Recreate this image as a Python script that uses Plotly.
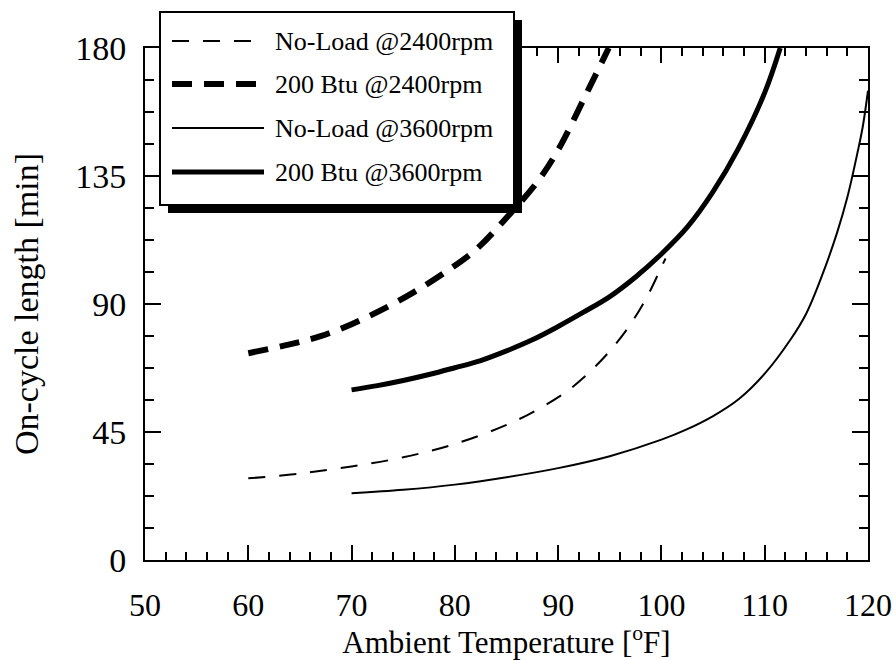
import plotly.graph_objects as go

# ---- data ----
t_nl2400 = [60, 65, 70, 75, 80, 85, 88, 91, 94, 96.5, 98.5, 100, 100.4]
v_nl2400 = [28.7, 30.4, 32.9, 36.1, 40.8, 47.5, 52.9, 59.7, 69.5, 80.3, 91.8, 103, 106]

t_bt2400 = [60, 64, 67, 70, 73, 76, 79, 82, 85, 88, 90, 93, 94.9]
v_bt2400 = [72.7, 75.8, 78.7, 82.9, 88.1, 94.1, 101, 109, 120.3, 133, 144.2, 165.9, 180]

t_nl3600 = [70, 75, 80, 85, 90, 95, 100, 102.5, 105, 107.5, 110, 112.5, 114, 115.5, 117, 118, 119, 119.5, 120]
v_nl3600 = [23.5, 24.7, 26.5, 29.1, 32.3, 36.5, 42.3, 46, 50.6, 56.6, 65.5, 77.5, 86.5, 99.5, 115, 127.5, 143.5, 152.5, 165]

t_bt3600 = [70, 72.5, 75, 77.5, 80, 82.5, 85, 87.5, 90, 92.5, 95, 97.5, 100, 102.5, 105, 107.5, 110, 111.5]
v_bt3600 = [59.8, 61.3, 63.1, 65.2, 67.6, 70.1, 73.5, 77.4, 82.1, 87.2, 92.6, 99.5, 107.6, 117, 129.5, 145, 164.3, 180]

series_names = ["No-Load @2400rpm", "200 Btu @2400rpm", "No-Load @3600rpm", "200 Btu @3600rpm"]
x_ticks = [50, 60, 70, 80, 90, 100, 110, 120]
y_ticks = [0, 45, 90, 135, 180]

styles = [
    dict(width=2, dash="17px,14px"),
    dict(width=6, dash="20px,12px"),
    dict(width=2, dash="solid"),
    dict(width=5, dash="solid"),
]
xs = [t_nl2400, t_bt2400, t_nl3600, t_bt3600]
ys = [v_nl2400, v_bt2400, v_nl3600, v_bt3600]

FONT = "Liberation Serif"
fig = go.Figure()
for name, x, y, st in zip(series_names, xs, ys, styles):
    fig.add_trace(go.Scatter(x=x, y=y, mode="lines", name=name, showlegend=False,
                             line=dict(color="black", width=st["width"], dash=st["dash"],
                                       shape="spline", smoothing=1.0)))

W, H = 896, 660
ML, MR, MT, MB = 145, 28, 48, 100
PW, PH = W - ML - MR, H - MT - MB

def px(xp):
    return (xp - ML) / PW

def py(yp):
    return (H - MB - yp) / PH

shapes = []
# legend shadow and box
shapes.append(dict(type="rect", xref="paper", yref="paper", layer="above",
                   x0=px(168), x1=px(522), y0=py(213), y1=py(20),
                   fillcolor="black", line=dict(width=0)))
shapes.append(dict(type="rect", xref="paper", yref="paper", layer="above",
                   x0=px(160), x1=px(514), y0=py(205), y1=py(12),
                   fillcolor="white", line=dict(color="black", width=2)))
row_y = [41, 84, 128, 172]
annotations = []
for name, st, ry in zip(series_names, styles, row_y):
    shapes.append(dict(type="line", xref="paper", yref="paper", layer="above",
                       x0=px(172), x1=px(264), y0=py(ry), y1=py(ry),
                       line=dict(color="black", width=st["width"], dash=st["dash"])))
    annotations.append(dict(text=name, xref="paper", yref="paper", x=px(273), y=py(ry),
                            xanchor="left", yanchor="middle", showarrow=False,
                            font=dict(family=FONT, size=26, color="black")))

axis_common = dict(showline=True, linecolor="black", linewidth=2, mirror="ticks",
                   ticks="inside", tickcolor="black", tickwidth=2, showgrid=False,
                   zeroline=False)

fig.update_layout(
    width=W, height=H,
    margin=dict(l=ML, r=MR, t=MT, b=MB, autoexpand=False),
    paper_bgcolor="white", plot_bgcolor="white",
    font=dict(family=FONT, color="black"),
    shapes=shapes, annotations=annotations,
    xaxis=dict(range=[50, 120], tickvals=x_ticks, ticktext=[str(v) for v in x_ticks],
               ticklen=15, ticklabelstandoff=16,
               tickfont=dict(family=FONT, size=32, color="black"),
               minor=dict(dtick=2, tick0=50, ticklen=8, tickwidth=2, tickcolor="black", ticks="inside"),
               title=dict(text="Ambient Temperature [<sup>o</sup>F]", standoff=4,
                          font=dict(family=FONT, size=31, color="black")),
               **axis_common),
    yaxis=dict(range=[0, 180], tickvals=y_ticks, ticktext=[str(v) for v in y_ticks],
               ticklen=16, ticklabelstandoff=10,
               tickfont=dict(family=FONT, size=34, color="black"),
               minor=dict(dtick=11.25, tick0=0, ticklen=9, tickwidth=2, tickcolor="black", ticks="inside"),
               title=dict(text="On-cycle length [min]", standoff=26,
                          font=dict(family=FONT, size=34, color="black")),
               **axis_common),
)

fig.write_html("out.html")
